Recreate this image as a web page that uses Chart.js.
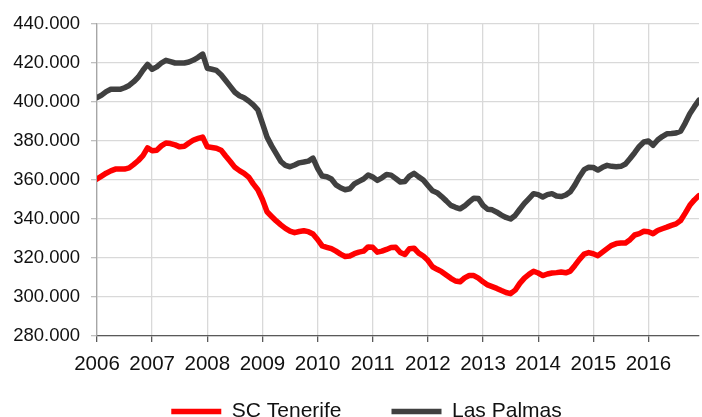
<!DOCTYPE html>
<html>
<head>
<meta charset="utf-8">
<script src="https://cdn.jsdelivr.net/npm/chart.js@4/dist/chart.umd.min.js"></script>
<style>
  body { margin: 0; background: #fff; }
  #wrap { width: 702px; height: 417px; }
</style>
</head>
<body>
<div id="wrap"><canvas id="chart" width="702" height="417"></canvas></div>
<script>
// year labels on the x axis (one tick every 12 months, Jan 2006 .. Dec 2016)
const years = ['2006', '2007', '2008', '2009', '2010', '2011', '2012', '2013', '2014', '2015', '2016'];

// monthly values, Jan 2006 .. Dec 2016
const tenerife = [
    360500, 362000, 363500, 364700, 365600, 365600, 365600, 366200, 368000, 370000, 372500, 376500,
    375000, 375300, 377500, 379000, 378700, 378000, 377000, 377300, 379000, 380500, 381300, 382000,
    377000, 376700, 376300, 375300, 372300, 369500, 366500, 364800, 363400, 361500, 358000, 355000,
    350000, 343700, 341300, 339000, 337000, 335200, 333800, 333000, 333600, 334000, 333500, 332300,
    329500, 326200, 325500, 324800, 323500, 322000, 320800, 321000, 322200, 323000, 323500, 325700,
    325500, 323000, 323500, 324400, 325400, 325500, 322800, 321800, 324800, 325000, 322500, 321000,
    318800, 315500, 314200, 313000, 311300, 309600, 308200, 307800, 309800, 311000, 311000, 309700,
    307800, 306200, 305300, 304400, 303300, 302300, 301700, 303500, 307000, 309700, 311600, 313200,
    312300, 311000, 311800, 312300, 312500, 312800, 312400, 313300, 316200, 319300, 322000, 322800,
    322200, 321200, 323000, 324800, 326500, 327400, 327700, 327700, 329400, 331800, 332500, 333700,
    333500, 332500, 334100, 335000, 335800, 336700, 337500, 339200, 343000, 347000, 349800, 352000
];
const lasPalmas = [
    402200, 403500, 405300, 406500, 406500, 406500, 407300, 408500, 410400, 412800, 416300, 419300,
    416800, 418000, 420000, 421400, 420700, 420000, 420000, 420000, 420500, 421500, 422900, 424600,
    417300, 416800, 416200, 414000, 411000, 408000, 405000, 403200, 402200, 400500, 398500, 396000,
    389000, 382000, 377500, 373500, 369500, 367500, 366800, 367700, 368800, 369200, 369700, 371200,
    366000, 362000, 361700, 360500, 357500, 356000, 355000, 355500, 358000, 359300, 360500, 362600,
    361500, 359800, 361100, 362800, 362500, 360800, 359000, 359200, 362000, 363400, 361600, 360000,
    357200, 354500, 353500, 351500, 349300, 347000, 346000, 345200, 346700, 348800, 350700, 350500,
    347000, 345000, 344700, 343500, 342000, 340800, 340000, 341800, 345000, 348000, 350500, 353000,
    352500, 351300, 352500, 353000, 351800, 351500, 352300, 354000, 357500, 361700, 365300, 366500,
    366400, 365100, 366500, 367500, 367000, 366800, 367000, 368200, 371000, 374000, 377200, 379500,
    380000, 377800, 380500, 382300, 383700, 383800, 384100, 385000, 389200, 394000, 397600, 401000
];

const seriesNames = ['SC Tenerife', 'Las Palmas'];

function fmtThousands(v) {
    return String(Math.round(v)).replace(/\B(?=(\d{3})+(?!\d))/g, '.');
}

function toPoints(arr) {
    return arr.map((v, i) => ({ x: i, y: v }));
}

const FONT = "'Liberation Sans', Arial, sans-serif";

// the legend row sits a bit left of centre and close under the axis labels
const legendNudge = {
    id: 'legendNudge',
    afterLayout(chart) {
        const lg = chart.legend;
        lg.left += 17; lg.right += 17;
        lg.top -= 25; lg.bottom -= 25;
    }
};

const ctx = document.getElementById('chart').getContext('2d');
new Chart(ctx, {
    type: 'line',
    data: {
        datasets: [
            {
                label: seriesNames[0],
                data: toPoints(tenerife),
                borderColor: '#ff0000',
                backgroundColor: '#ff0000',
                borderWidth: 5.5,
                borderJoinStyle: 'round',
                borderCapStyle: 'round',
                pointRadius: 0,
                tension: 0
            },
            {
                label: seriesNames[1],
                data: toPoints(lasPalmas),
                borderColor: '#404040',
                backgroundColor: '#404040',
                borderWidth: 5.5,
                borderJoinStyle: 'round',
                borderCapStyle: 'round',
                pointRadius: 0,
                tension: 0
            }
        ]
    },
    options: {
        responsive: false,
        animation: false,
        layout: { padding: { top: 24, right: 3, bottom: -40, left: 0 } },
        scales: {
            x: {
                type: 'linear',
                min: 0,
                max: 131,
                afterFit: (scale) => { scale.height = 40; },
                border: { color: '#595959', width: 1.3 },
                grid: { color: '#d9d9d9', lineWidth: 1.3, tickColor: '#595959', tickLength: 6 },
                ticks: {
                    stepSize: 12,
                    includeBounds: false,
                    autoSkip: false,
                    maxRotation: 0,
                    padding: 10,
                    color: '#111',
                    font: { family: FONT, size: 20.5 },
                    callback: (v) => years[v / 12]
                }
            },
            y: {
                min: 280000,
                max: 440000,
                afterFit: (scale) => { scale.width = 97; },
                border: { color: '#a6a6a6', width: 1.3 },
                grid: { color: '#d9d9d9', lineWidth: 1.3, tickColor: '#bfbfbf', tickLength: 6 },
                ticks: {
                    stepSize: 20000,
                    padding: 11,
                    color: '#111',
                    font: { family: FONT, size: 18.5 },
                    callback: (v) => fmtThousands(v)
                }
            }
        },
        plugins: {
            tooltip: { enabled: false },
            legend: {
                position: 'bottom',
                labels: {
                    usePointStyle: true,
                    pointStyle: 'line',
                    pointStyleWidth: 50,
                    padding: 50,
                    color: '#111',
                    font: { family: FONT, size: 21 }
                }
            }
        }
    },
    plugins: [legendNudge]
});
</script>
</body>
</html>
